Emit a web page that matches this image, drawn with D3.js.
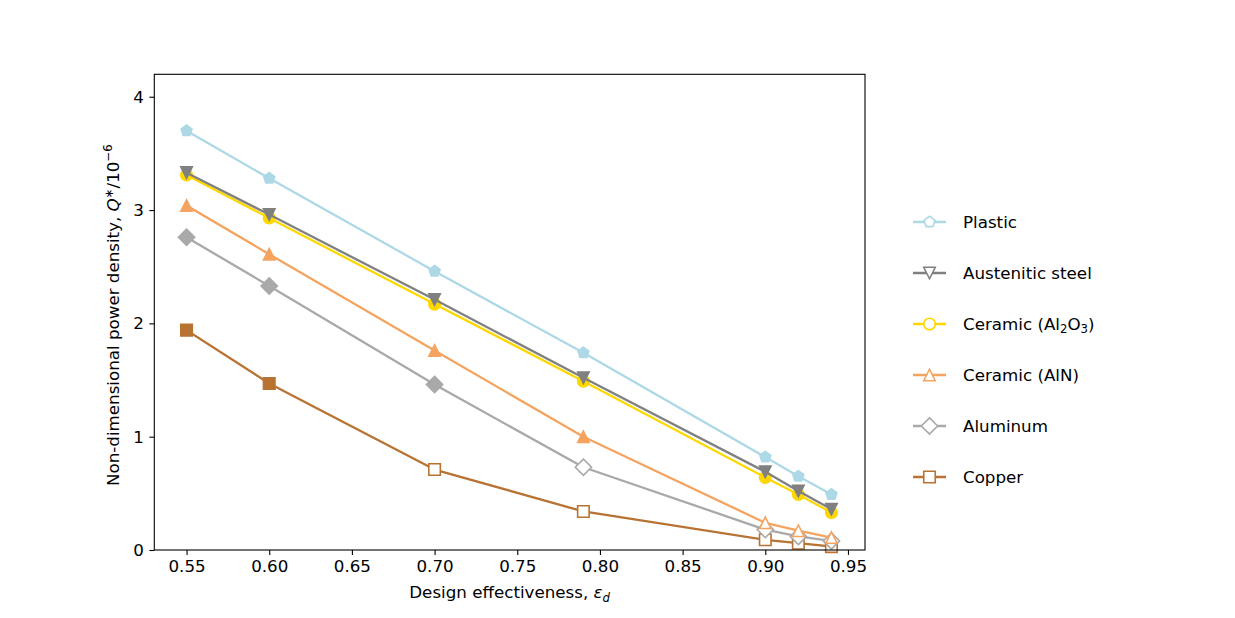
<!DOCTYPE html>
<html>
<head>
<meta charset="utf-8">
<script src="https://cdn.jsdelivr.net/npm/d3@7"></script>
<style>
  body { margin: 0; background: #fff; }
  svg { font-family: "DejaVu Sans", sans-serif; }
</style>
</head>
<body>
<svg width="1235" height="618"></svg>
<script>
// design effectiveness values (x)
let effectiveness = [0.55, 0.60, 0.70, 0.79, 0.90, 0.92, 0.94];

let materials = ["Plastic", "Austenitic steel", "Ceramic (Al2O3)", "Ceramic (AlN)", "Aluminum", "Copper"];

let plastic = [3.70, 3.28, 2.46, 1.74, 0.82, 0.65, 0.49];
let steel = [3.33, 2.96, 2.21, 1.52, 0.69, 0.52, 0.36];
let alumina = [3.31, 2.93, 2.17, 1.49, 0.64, 0.49, 0.33];
let aln = [3.04, 2.61, 1.76, 1.00, 0.24, 0.17, 0.11];
let aluminum = [2.76, 2.33, 1.46, 0.73, 0.18, 0.12, 0.08];
let copper = [1.94, 1.47, 0.71, 0.34, 0.09, 0.06, 0.03];

// filled marker = true, hollow marker = false
let plasticFilled = [true, true, true, true, true, true, true];
let steelFilled = [true, true, true, true, true, true, true];
let aluminaFilled = [true, true, true, true, true, true, true];
let alnFilled = [true, true, true, true, false, false, false];
let aluminumFilled = [true, true, true, false, false, false, false];
let copperFilled = [true, true, false, false, false, false, false];

let xTicks = [0.55, 0.60, 0.65, 0.70, 0.75, 0.80, 0.85, 0.90, 0.95];
let yTicks = [0, 1, 2, 3, 4];

let series = [
  { name: materials[0], values: plastic, filled: plasticFilled, color: "#add8e6", marker: "pentagon" },
  { name: materials[1], values: steel, filled: steelFilled, color: "#808080", marker: "tridown" },
  { name: materials[2], values: alumina, filled: aluminaFilled, color: "#ffd700", marker: "circle" },
  { name: materials[3], values: aln, filled: alnFilled, color: "#f4a460", marker: "triup" },
  { name: materials[4], values: aluminum, filled: aluminumFilled, color: "#a9a9a9", marker: "diamond" },
  { name: materials[5], values: copper, filled: copperFilled, color: "#b87333", marker: "square" },
];

let plotLeft = 154.3;
let plotRight = 865;
let plotTop = 74.3;
let plotBottom = 550;
let fontSize = 16.7;
let smallSize = 11.7;
let S = 11.5; // marker size in px

let svg = d3.select("svg");

let xScale = d3.scaleLinear().domain([0.5305, 0.9603]).range([plotLeft, plotRight]);
let yScale = d3.scaleLinear().domain([0, 4.198]).range([plotBottom, plotTop]);

let markerPath = (type) => {
  let h = S / 2;
  if (type == "circle") {
    return "M" + h + ",0A" + h + "," + h + " 0 1,1 " + (-h) + ",0A" + h + "," + h + " 0 1,1 " + h + ",0Z";
  }
  if (type == "square") {
    return "M" + (-h) + "," + (-h) + "H" + h + "V" + h + "H" + (-h) + "Z";
  }
  if (type == "tridown") {
    return "M0," + h + "L" + (-h) + "," + (-h) + "L" + h + "," + (-h) + "Z";
  }
  if (type == "triup") {
    return "M0," + (-h) + "L" + (-h) + "," + h + "L" + h + "," + h + "Z";
  }
  if (type == "diamond") {
    let d = S / Math.SQRT2;
    return "M0," + (-d) + "L" + d + ",0L0," + d + "L" + (-d) + ",0Z";
  }
  // pentagon, vertex up
  let pts = d3.range(5).map((i) => {
    let a = -Math.PI / 2 + (i * 2 * Math.PI) / 5;
    return [h * Math.cos(a), h * Math.sin(a)];
  });
  return "M" + pts.map((p) => p[0].toFixed(2) + "," + p[1].toFixed(2)).join("L") + "Z";
};

// axes
let xAxis = d3.axisBottom(xScale).tickValues(xTicks).tickFormat(d3.format(".2f")).tickSize(4.9).tickPadding(4.9);
let yAxis = d3.axisLeft(yScale).tickValues(yTicks).tickFormat(d3.format("d")).tickSize(4.9).tickPadding(5.5);

let gx = svg.append("g").attr("transform", "translate(0," + plotBottom + ")").call(xAxis);
let gy = svg.append("g").attr("transform", "translate(" + plotLeft + ",0)").call(yAxis);

[gx, gy].forEach((g) => {
  g.select(".domain").remove();
  g.selectAll(".tick line").attr("stroke", "#000").attr("stroke-width", 1.1);
  g.selectAll(".tick text")
    .attr("fill", "#000")
    .style("font-family", "DejaVu Sans")
    .style("font-size", fontSize + "px");
});

// lines and markers, last series drawn first
let line = d3
  .line()
  .x((d, i) => xScale(effectiveness[i]))
  .y((d) => yScale(d));

series
  .slice()
  .reverse()
  .forEach((s) => {
    let g = svg.append("g");
    g.append("path")
      .attr("d", line(s.values))
      .attr("fill", "none")
      .attr("stroke", s.color)
      .attr("stroke-width", 2.3)
      .attr("stroke-linejoin", "round")
      .attr("stroke-linecap", "square");
    g.selectAll("path.mk")
      .data(s.values)
      .enter()
      .append("path")
      .attr("class", "mk")
      .attr("d", markerPath(s.marker))
      .attr("transform", (d, i) => "translate(" + xScale(effectiveness[i]) + "," + yScale(d) + ")")
      .attr("fill", (d, i) => (s.filled[i] ? s.color : "#fff"))
      .attr("stroke", s.color)
      .attr("stroke-width", 1.6);
  });

// frame
svg
  .append("rect")
  .attr("x", plotLeft)
  .attr("y", plotTop)
  .attr("width", plotRight - plotLeft)
  .attr("height", plotBottom - plotTop)
  .attr("fill", "none")
  .attr("stroke", "#000")
  .attr("stroke-width", 1.1);

// axis labels
let xLabel = svg
  .append("text")
  .attr("x", (plotLeft + plotRight) / 2)
  .attr("y", 598)
  .attr("text-anchor", "middle")
  .style("font-size", fontSize + "px");
xLabel.append("tspan").text("Design effectiveness, ");
xLabel.append("tspan").attr("font-style", "italic").text("ε");
xLabel.append("tspan").attr("font-style", "italic").attr("font-size", smallSize + "px").attr("dy", 3.5).text("d");

let yLabel = svg
  .append("text")
  .attr("transform", "translate(119," + ((plotTop + plotBottom) / 2 + 3) + ") rotate(-90)")
  .attr("text-anchor", "middle")
  .style("font-size", fontSize + "px");
yLabel.append("tspan").text("Non-dimensional power density, ");
yLabel.append("tspan").attr("font-style", "italic").text("Q");
yLabel.append("tspan").attr("font-size", smallSize + "px").attr("dy", -6).text("∗");
yLabel.append("tspan").attr("dy", 6).text("/10");
yLabel.append("tspan").attr("font-size", smallSize + "px").attr("dy", -7).text("−6");

// legend
let legendY = d3.scalePoint().domain(materials).range([222, 477]);
let legend = svg.append("g");
series.forEach((s) => {
  let y = legendY(s.name);
  legend
    .append("line")
    .attr("x1", 913)
    .attr("x2", 946)
    .attr("y1", y)
    .attr("y2", y)
    .attr("stroke", s.color)
    .attr("stroke-width", 2.3);
  legend
    .append("path")
    .attr("d", markerPath(s.marker))
    .attr("transform", "translate(929.5," + y + ")")
    .attr("fill", "#fff")
    .attr("stroke", s.color)
    .attr("stroke-width", 1.6);
  let t = legend
    .append("text")
    .attr("x", 963)
    .attr("y", y)
    .attr("dy", "0.35em")
    .style("font-size", fontSize + "px");
  if (s.name == "Ceramic (Al2O3)") {
    t.append("tspan").text("Ceramic (Al");
    t.append("tspan").attr("font-size", smallSize + "px").attr("dy", 3.5).text("2");
    t.append("tspan").attr("dy", -3.5).text("O");
    t.append("tspan").attr("font-size", smallSize + "px").attr("dy", 3.5).text("3");
    t.append("tspan").attr("dy", -3.5).text(")");
  } else {
    t.text(s.name);
  }
});
</script>
</body>
</html>
